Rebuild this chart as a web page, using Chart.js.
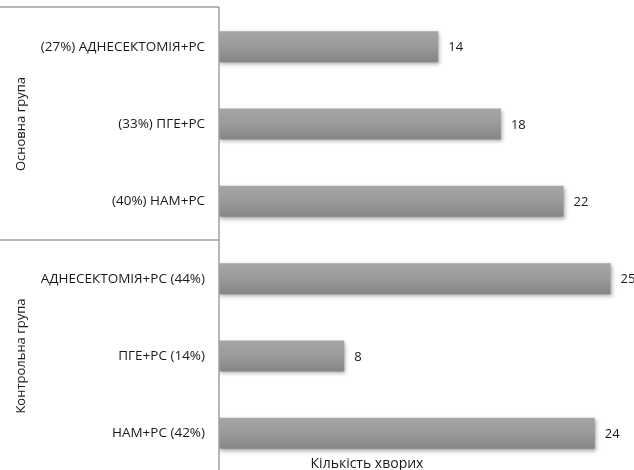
<!DOCTYPE html>
<html>
<head>
<meta charset="utf-8">
<script src="https://cdn.jsdelivr.net/npm/chart.js@4/dist/chart.umd.min.js"></script>
<style>
  html, body { margin: 0; padding: 0; background: #fff; }
  #wrap { width: 634px; height: 470px; overflow: hidden; position: relative; }
  canvas { display: block; }
</style>
</head>
<body>
<div id="wrap"><canvas id="c" width="634" height="480"></canvas></div>
<script>
// Treatment categories, top to bottom
const categories = [
  '(27%) АДНЕСЕКТОМІЯ+РС',
  '(33%) ПГЕ+РС',
  '(40%) НАМ+РС',
  'АДНЕСЕКТОМІЯ+РС (44%)',
  'ПГЕ+РС (14%)',
  'НАМ+РС (42%)'
];
// Number of patients per category
const patients = [14, 18, 22, 25, 8, 24];
// Patient groups and how many categories each spans
const groupNames = ['Основна група', 'Контрольна група'];
const groupSizes = [3, 3];
const axisTitle = 'Кількість хворих';

const FONT = '"Open Sans", "Noto Sans", sans-serif';
const LINE = '#a0a0a0';

// Vertical grey gradient for each bar
function barFill(ctx) {
  const chart = ctx.chart;
  const y = chart.scales.y;
  if (!chart.chartArea || !y) return '#999999';
  const c = y.getPixelForValue(ctx.dataIndex);
  const half = 16;
  const g = chart.ctx.createLinearGradient(0, c - half, 0, c + half);
  g.addColorStop(0, '#a6a6a6');
  g.addColorStop(0.5, '#9a9a9a');
  g.addColorStop(1, '#848484');
  return g;
}

// Soft drop shadow under the bars
const barShadow = {
  id: 'barShadow',
  beforeDatasetsDraw(chart) {
    const ctx = chart.ctx;
    ctx.save();
    ctx.shadowColor = 'rgba(0,0,0,0.35)';
    ctx.shadowBlur = 4;
    ctx.shadowOffsetX = 1;
    ctx.shadowOffsetY = 2;
  },
  afterDatasetsDraw(chart) {
    chart.ctx.restore();
  }
};

// Value labels, group frame lines, group names and the axis title
const decorations = {
  id: 'decorations',
  afterDraw(chart) {
    const ctx = chart.ctx;
    const area = chart.chartArea;
    const y = chart.scales.y;
    const meta = chart.getDatasetMeta(0);

    ctx.save();
    // value labels at bar ends
    ctx.font = '13px ' + FONT;
    ctx.fillStyle = '#1a1a1a';
    ctx.textAlign = 'left';
    ctx.textBaseline = 'middle';
    meta.data.forEach((bar, i) => {
      ctx.fillText(String(patients[i]), bar.x + 10, bar.y + 1);
    });

    // frame lines on the left side
    ctx.strokeStyle = LINE;
    ctx.lineWidth = 1.5;
    ctx.beginPath();
    ctx.moveTo(0, area.top - 1);
    ctx.lineTo(area.left, area.top - 1);
    ctx.moveTo(area.left, area.top - 1);
    ctx.lineTo(area.left, chart.height);
    let start = 0;
    const bounds = [];
    const step = y.getPixelForValue(1) - y.getPixelForValue(0);
    groupSizes.forEach((n, gi) => {
      const top = y.getPixelForValue(start) - step / 2;
      const bottom = y.getPixelForValue(start + n - 1) + step / 2;
      bounds.push([top, bottom]);
      if (gi < groupSizes.length - 1) {
        ctx.moveTo(0, bottom);
        ctx.lineTo(area.left, bottom);
      }
      start += n;
    });
    ctx.stroke();

    // rotated group names
    ctx.font = '13px ' + FONT;
    ctx.fillStyle = '#1a1a1a';
    ctx.textAlign = 'center';
    ctx.textBaseline = 'middle';
    bounds.forEach(([t, b], gi) => {
      ctx.save();
      ctx.translate(21, (t + b) / 2);
      ctx.rotate(-Math.PI / 2);
      ctx.fillText(groupNames[gi], 0, 0);
      ctx.restore();
    });

    // axis title
    ctx.font = '14px ' + FONT;
    ctx.fillText(axisTitle, 367, 464);
    ctx.restore();
  }
};

new Chart(document.getElementById('c'), {
  type: 'bar',
  data: {
    labels: categories,
    datasets: [{
      data: patients,
      backgroundColor: barFill,
      borderWidth: 0,
      barPercentage: 0.4,
      categoryPercentage: 1
    }]
  },
  options: {
    indexAxis: 'y',
    responsive: false,
    animation: false,
    events: [],
    layout: { padding: { top: 8, bottom: 8, left: 0, right: 0 } },
    plugins: { legend: { display: false }, tooltip: { enabled: false } },
    scales: {
      x: {
        display: false,
        min: 0,
        max: 26.5
      },
      y: {
        grid: { display: false, drawTicks: false },
        border: { display: false },
        ticks: {
          padding: 14,
          color: '#1a1a1a',
          font: { family: FONT, size: 13.5 }
        },
        afterFit(scale) {
          scale.width = 219;
          scale.paddingTop = 0;
          scale.paddingBottom = 0;
        }
      }
    }
  },
  plugins: [barShadow, decorations]
});
</script>
</body>
</html>
